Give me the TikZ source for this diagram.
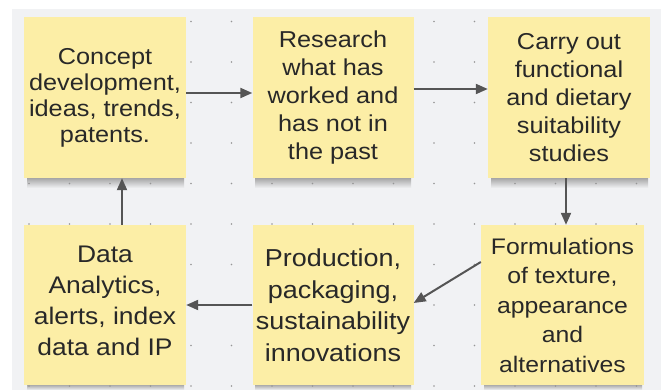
\documentclass[tikz,border=0pt]{standalone}
\usepackage{fontspec}
\setmainfont{Liberation Sans}[FakeStretch=1.1]
\usetikzlibrary{arrows.meta}
\definecolor{bgcol}{RGB}{241,242,244}
\definecolor{notecol}{RGB}{252,238,166}
\definecolor{txtcol}{RGB}{40,40,40}
\definecolor{arrcol}{RGB}{85,85,85}
\definecolor{dotcol}{RGB}{150,150,150}
\begin{document}
\begin{tikzpicture}[x=1pt,y=-1pt,
  note/.style={fill=notecol, draw=none, inner sep=0pt, align=center, text=txtcol},
  arr/.style={draw=arrcol, line width=2pt, -{Triangle[length=12pt,width=10pt]}},
  shadowbar/.style={top color=black!38, bottom color=bgcol}]
\useasboundingbox (0,0) rectangle (661,390);
\fill[white] (0,0) rectangle (661,390);
\fill[bgcol] (12,9) rectangle (661,390);
% shadows
\shade[shadowbar] (27,177) rectangle (184,188);
\shade[shadowbar] (255,177) rectangle (411,188);
\shade[shadowbar] (491,177) rectangle (648,188);
\shade[shadowbar] (27,384) rectangle (184,390);
\shade[shadowbar] (255,384) rectangle (411,390);
\shade[shadowbar] (484,384) rectangle (642,390);
% dot grid
\foreach \i in {0,...,15}{
  \foreach \j in {0,...,9}{
    \fill[dotcol] (29+40.5*\i, 21.5+40.5*\j) circle (0.9pt);
  }
}
% notes
\node[note, minimum width=162pt, minimum height=161pt, font=\fontsize{23}{26}\selectfont] (b1) at (105,97.5)
  {Concept\\development,\\ideas, trends,\\patents.};
\node[note, minimum width=161pt, minimum height=161pt, font=\fontsize{23}{28.2}\selectfont] (b2) at (333,97.5)
  {Research\\what has\\worked and\\has not in\\the past};
\node[note, minimum width=162pt, minimum height=161pt, font=\fontsize{23}{28}\selectfont] (b3) at (569,97.5)
  {Carry out\\functional\\and dietary\\suitability\\studies};
\node[note, minimum width=162pt, minimum height=160pt, text depth=8pt, font=\fontsize{24}{31}\selectfont] (b4) at (105,305)
  {Data\\Analytics,\\alerts, index\\data and IP};
\node[note, minimum width=161pt, minimum height=160pt, font=\fontsize{24.5}{31.5}\selectfont] (b5) at (333,305)
  {Production,\\packaging,\\sustainability\\innovations};
\node[note, minimum width=163pt, minimum height=160pt, font=\fontsize{22.5}{29.5}\selectfont] (b6) at (562.5,305)
  {Formulations\\of texture,\\appearance\\and\\alternatives};
% connectors
\draw[arr] ([yshift=4.5pt]b1.east) -- ([yshift=4.5pt]b2.west);
\draw[arr] ([yshift=8.5pt]b2.east) -- ([yshift=8.5pt]b3.west);
\draw[arr] ([xshift=-3pt]b3.south) -- ([xshift=-3pt]b3.south |- b6.north);
\draw[arr] ([yshift=43pt]b6.west) -- ([yshift=2pt]b5.east);
\draw[arr] (b5.west) -- (b4.east);
\draw[arr] ([xshift=17pt]b4.north) -- ([xshift=17pt]b4.north |- b1.south);
\end{tikzpicture}
\end{document}
